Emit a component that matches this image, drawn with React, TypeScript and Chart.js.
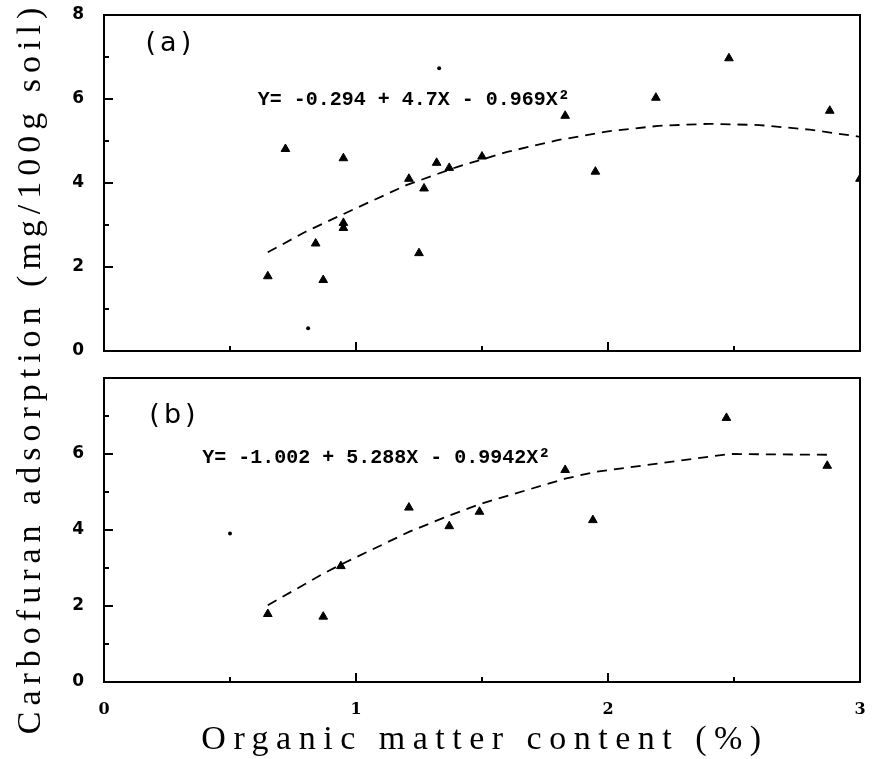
import React, { useEffect, useRef } from "react";
import { Chart, registerables } from "chart.js";
Chart.register(...registerables);

// ---- data ----
const xTickValues = [0, 0.5, 1, 1.5, 2, 2.5, 3];
const yTickValues = [0, 1, 2, 3, 4, 5, 6, 7, 8];
const xTickLabels = ["0", "", "1", "", "2", "", "3"];
const yTickLabelsA = ["0", "", "2", "", "4", "", "6", "", "8"];
const yTickLabelsB = ["0", "", "2", "", "4", "", "6", "", ""];

// panel (a)
const omA = [0.65, 0.72, 0.84, 0.87, 0.95, 0.95, 0.95, 1.21, 1.25, 1.27, 1.32, 1.37, 1.5, 1.83, 1.95, 2.19, 2.48, 2.88, 3.0];
const adsA = [1.78, 4.81, 2.56, 1.69, 4.59, 3.05, 2.93, 4.1, 2.33, 3.87, 4.48, 4.36, 4.63, 5.6, 4.27, 6.03, 6.97, 5.72, 4.1];
const omDotA = [0.81, 1.33];
const adsDotA = [0.54, 6.73];
const fitXA = [0.65, 0.8, 1.0, 1.2, 1.4, 1.6, 1.8, 2.0, 2.2, 2.4, 2.6, 2.8, 3.0];
const fitYA = [2.35, 2.84, 3.4, 3.95, 4.38, 4.74, 5.02, 5.23, 5.36, 5.41, 5.38, 5.27, 5.1];
const eqA = "Y= -0.294 + 4.7X - 0.969X²";

// panel (b)
const omB = [0.65, 0.87, 0.94, 1.21, 1.37, 1.49, 1.83, 1.94, 2.47, 2.87];
const adsB = [1.79, 1.72, 3.05, 4.59, 4.1, 4.48, 5.58, 4.26, 6.95, 5.69];
const omDotB = [0.5];
const adsDotB = [3.91];
const fitXB = [0.65, 0.87, 0.94, 1.21, 1.37, 1.5, 1.83, 1.95, 2.48, 2.88];
const fitYB = [2.02, 2.85, 3.09, 3.95, 4.38, 4.7, 5.35, 5.53, 6.0, 5.98];
const eqB = "Y= -1.002 + 5.288X - 0.9942X²";

const xTitle = "Organic matter content (%)";
const yTitle = "Carbofuran adsorption (mg/100g soil)";

// ---- annotation placement (data coords) ----
const panelTextA = { label: "(a)", lx: 0.165, ly: 7.32, eq: eqA, ex: 0.61, ey: 5.98 };
const panelTextB = { label: "(b)", lx: 0.18, ly: 7.0, eq: eqB, ex: 0.39, ey: 5.9 };

const framePlugin = {
  id: "frame",
  afterDraw(chart: any, _args: any, opts: any) {
    const { ctx, chartArea, scales } = chart;
    const { left, right, top, bottom } = chartArea;
    const x = scales.x;
    const y = scales.y;
    ctx.save();
    ctx.strokeStyle = "#000";
    ctx.lineWidth = 2;
    ctx.strokeRect(left, top, right - left, bottom - top);
    ctx.beginPath();
    xTickValues.forEach((v) => {
      const px = x.getPixelForValue(v);
      const len = Number.isInteger(v) ? 9 : 5;
      ctx.moveTo(px, bottom);
      ctx.lineTo(px, bottom - len);
    });
    yTickValues.forEach((v) => {
      const py = y.getPixelForValue(v);
      const len = v % 2 === 0 ? 9 : 5;
      ctx.moveTo(left, py);
      ctx.lineTo(left + len, py);
    });
    ctx.stroke();
    ctx.fillStyle = "#000";
    ctx.textBaseline = "middle";
    ctx.textAlign = "left";
    ctx.font = "27px 'DejaVu Sans'";
    try { (ctx as any).letterSpacing = "4px"; } catch (e) {}
    ctx.fillText(opts.label, x.getPixelForValue(opts.lx), y.getPixelForValue(opts.ly));
    try { (ctx as any).letterSpacing = "0px"; } catch (e) {}
    ctx.font = "bold 20px 'Liberation Mono'";
    ctx.fillText(opts.eq, x.getPixelForValue(opts.ex), y.getPixelForValue(opts.ey));
    ctx.restore();
  },
};

function makeConfig(panel: "a" | "b"): any {
  const isA = panel === "a";
  const om = isA ? omA : omB;
  const ads = isA ? adsA : adsB;
  const omDot = isA ? omDotA : omDotB;
  const adsDot = isA ? adsDotA : adsDotB;
  const fx = isA ? fitXA : fitXB;
  const fy = isA ? fitYA : fitYB;
  const yLabels = isA ? yTickLabelsA : yTickLabelsB;
  return {
    type: "scatter",
    data: {
      datasets: [
        {
          label: "fit",
          data: fx.map((v, i) => ({ x: v, y: fy[i] })),
          showLine: true,
          borderColor: "#000",
          borderWidth: 1.8,
          borderDash: [10, 7],
          pointRadius: 0,
          fill: false,
          clip: 0,
        },
        {
          label: "soils",
          data: om.map((v, i) => ({ x: v, y: ads[i] })),
          pointStyle: "triangle",
          pointRadius: 5,
          backgroundColor: "#000",
          borderColor: "#000",
          borderWidth: 1,
          clip: 0,
        },
        {
          label: "dots",
          data: omDot.map((v, i) => ({ x: v, y: adsDot[i] })),
          pointStyle: "circle",
          pointRadius: 2,
          backgroundColor: "#000",
          borderColor: "#000",
          borderWidth: 0,
        },
      ],
    },
    options: {
      animation: false,
      responsive: false,
      maintainAspectRatio: false,
      layout: isA
        ? { padding: { left: 0, right: 15, top: 15, bottom: 408 } }
        : { padding: { left: 0, right: 15, top: 378, bottom: 37 } },
      plugins: {
        legend: { display: false },
        tooltip: { enabled: false },
        frame: isA ? panelTextA : panelTextB,
      },
      scales: {
        x: {
          type: "linear",
          min: 0,
          max: 3,
          grid: { display: false, drawTicks: false },
          border: { display: false },
          ticks: {
            display: !isA,
            stepSize: 0.5,
            autoSkip: false,
            maxRotation: 0,
            padding: 18,
            color: "#000",
            font: { family: "'DejaVu Serif'", weight: "bold", size: 16 },
            callback: (v: number) => {
              const i = xTickValues.indexOf(v);
              return i >= 0 ? xTickLabels[i] : "";
            },
          },
          afterFit: (s: any) => {
            s.height = isA ? 0 : 40;
            s.paddingLeft = 0;
            s.paddingRight = 0;
          },
        },
        y: {
          type: "linear",
          min: 0,
          max: 8,
          grid: { display: false, drawTicks: false },
          border: { display: false },
          ticks: {
            stepSize: 1,
            autoSkip: false,
            padding: 20,
            color: "#000",
            font: { family: "'DejaVu Sans'", weight: "bold", size: 17 },
            callback: (v: number) => {
              const i = yTickValues.indexOf(v);
              return i >= 0 ? yLabels[i] : "";
            },
          },
          afterFit: (s: any) => {
            s.width = 104;
            s.paddingTop = 0;
            s.paddingBottom = 0;
          },
        },
      },
    },
    plugins: [framePlugin],
  };
}

function Panel({ panel }: { panel: "a" | "b" }) {
  const ref = useRef<HTMLCanvasElement | null>(null);
  useEffect(() => {
    if (!ref.current) return;
    const chart = new Chart(ref.current, makeConfig(panel));
    return () => chart.destroy();
  }, [panel]);
  return (
    <canvas
      ref={ref}
      width={875}
      height={759}
      style={{ position: "absolute", left: 0, top: 0, width: 875, height: 759 }}
    />
  );
}

export default function App() {
  return (
    <div
      style={{
        position: "fixed",
        left: 0,
        top: 0,
        width: 875,
        height: 759,
        background: "#fff",
        overflow: "hidden",
      }}
    >
      <Panel panel="a" />
      <Panel panel="b" />
      <div
        style={{
          position: "absolute",
          left: 29 - 400,
          top: 368 - 22,
          width: 800,
          height: 44,
          lineHeight: "44px",
          textAlign: "center",
          transform: "rotate(-90deg)",
          fontFamily: "'Liberation Serif', serif",
          fontSize: 34,
          letterSpacing: "6px",
          color: "#000",
          whiteSpace: "nowrap",
        }}
      >
        {yTitle}
      </div>
      <div
        style={{
          position: "absolute",
          left: 160,
          top: 716,
          width: 650,
          height: 44,
          lineHeight: "44px",
          textAlign: "center",
          fontFamily: "'Liberation Serif', serif",
          fontSize: 34,
          letterSpacing: "7.5px",
          color: "#000",
          whiteSpace: "nowrap",
        }}
      >
        {xTitle}
      </div>
    </div>
  );
}
